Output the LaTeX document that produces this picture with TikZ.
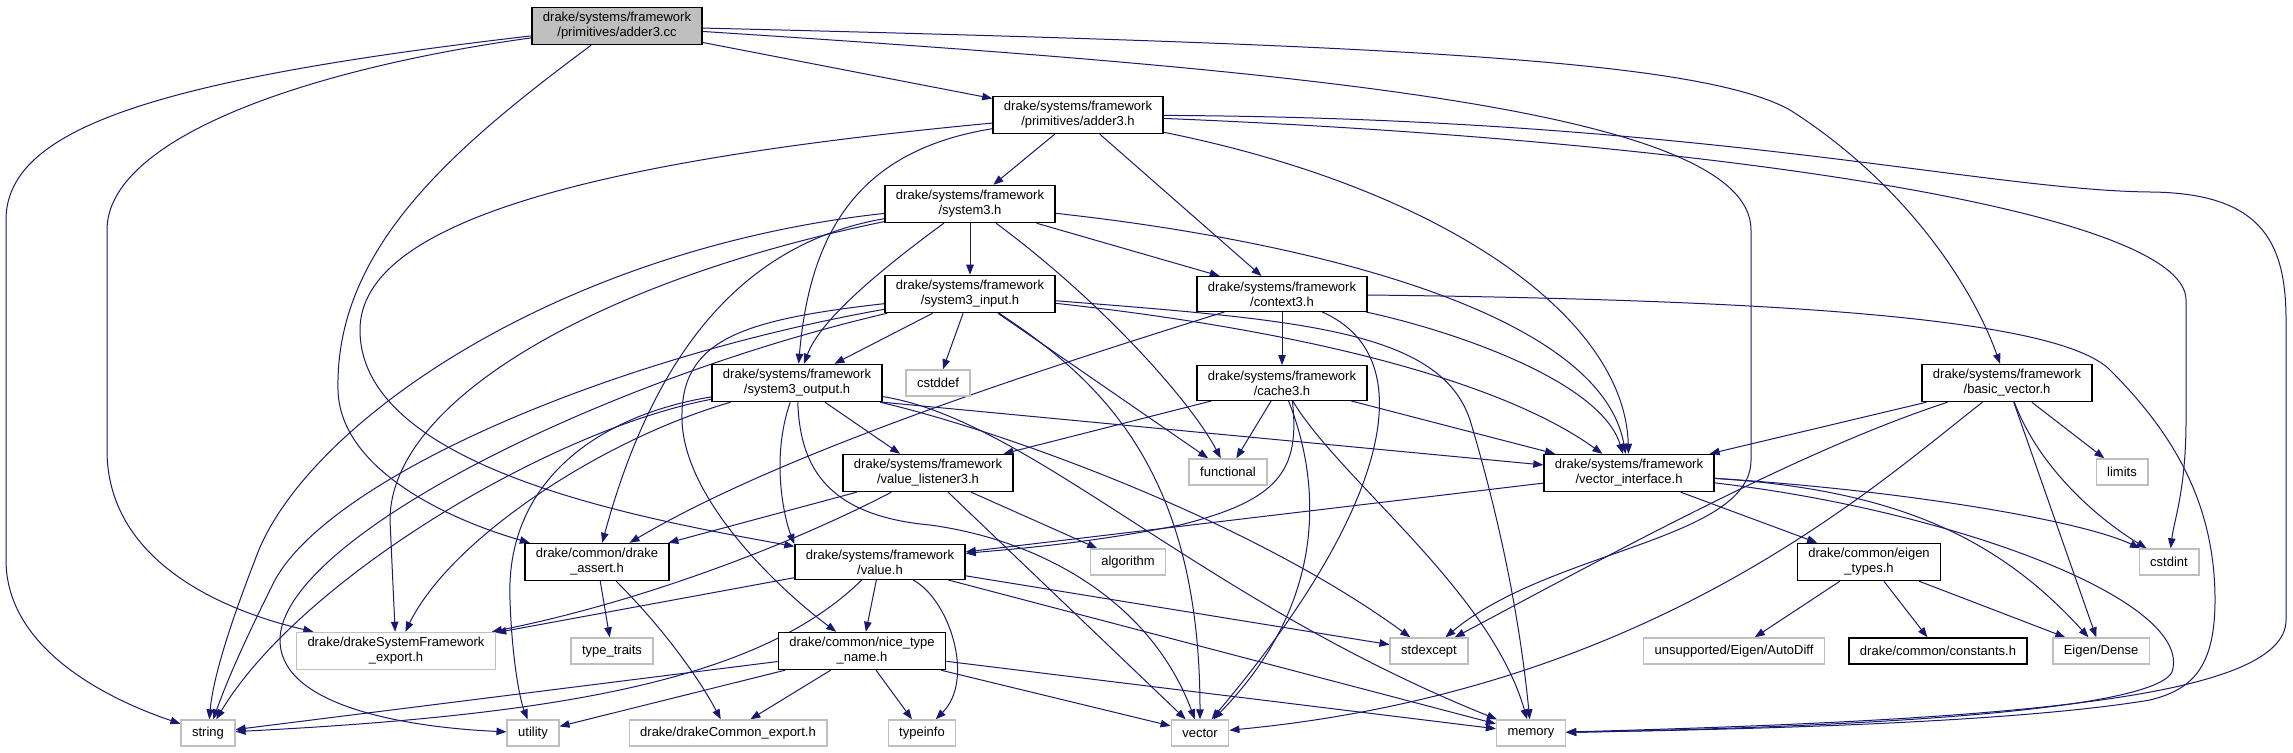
\documentclass[tikz,border=0pt]{standalone}
\usepackage{fontspec}
\setmainfont{Liberation Sans}
\usetikzlibrary{arrows.meta,backgrounds}
\definecolor{Edge}{RGB}{25,25,112}
\definecolor{Grey}{RGB}{191,191,191}

\tikzset{
  file/.style={draw,line width=1.4pt,fill=white,align=center,inner xsep=11pt,inner ysep=5pt,minimum height=26pt,font=\fontsize{13}{15}\selectfont},
  hdr/.style={file,draw=black},
  ext/.style={file,draw=Grey},
  rootfile/.style={file,draw=black,fill=Grey},
  incl/.style={draw=Edge,line width=1pt,-{Triangle[length=10pt,width=7.5pt]}}
}

\begin{document}
\begin{tikzpicture}[x=1pt,y=-1pt,line cap=round]
\path[use as bounding box] (0,0) rectangle (2293,752);
% files, row by row
\node[rootfile] (cc) at (617,26) {drake/systems/framework\\/primitives/adder3.cc};
\node[hdr] (adder3) at (1078,115) {drake/systems/framework\\/primitives/adder3.h};
\node[hdr] (system3) at (970,204) {drake/systems/framework\\/system3.h};
\node[hdr] (input) at (970,294) {drake/systems/framework\\/system3\_input.h};
\node[hdr] (context) at (1282,294) {drake/systems/framework\\/context3.h};
\node[hdr] (output) at (797,383) {drake/systems/framework\\/system3\_output.h};
\node[ext] (cstddef) at (938,383) {cstddef};
\node[hdr] (cache) at (1282,383) {drake/systems/framework\\/cache3.h};
\node[hdr] (basicvec) at (2007,383) {drake/systems/framework\\/basic\_vector.h};
\node[hdr] (listener) at (928,473) {drake/systems/framework\\/value\_listener3.h};
\node[ext] (functional) at (1228,472) {functional};
\node[hdr] (vecif) at (1629,473) {drake/systems/framework\\/vector\_interface.h};
\node[ext] (limits) at (2122,472) {limits};
\node[hdr] (dassert) at (597,562) {drake/common/drake\\\_assert.h};
\node[hdr] (value) at (880,562) {drake/systems/framework\\/value.h};
\node[ext] (algorithm) at (1128,562) {algorithm};
\node[hdr] (eigen) at (1869,562) {drake/common/eigen\\\_types.h};
\node[ext] (cstdint) at (2169,562) {cstdint};
\node[ext] (sysexport) at (396,651) {drake/drakeSystemFramework\\\_export.h};
\node[ext] (typetraits) at (612,651) {type\_traits};
\node[hdr] (nicename) at (862,651) {drake/common/nice\_type\\\_name.h};
\node[ext] (stdexcept) at (1429,651) {stdexcept};
\node[ext] (autodiff) at (1734,651) {unsupported/Eigen/AutoDiff};
\node[hdr] (constants) at (1938,651) {drake/common/constants.h};
\node[ext] (dense) at (2101,651) {Eigen/Dense};
\node[ext] (string) at (208,733) {string};
\node[ext] (utility) at (533,733) {utility};
\node[ext] (comexport) at (728,733) {drake/drakeCommon\_export.h};
\node[ext] (typeinfo) at (922,733) {typeinfo};
\node[ext] (vector) at (1200,733) {vector};
\node[ext] (memory) at (1531,733) {memory};

\begin{scope}[on background layer]
\fill[white] (0,0) rectangle (2293,752);
% adder3.cc
\draw[incl] (cc) -- (adder3);
\draw[incl] (cc) .. controls (150,80) and (6,130) .. (6,220) -- (6,560) .. controls (6,650) and (110,700) .. (string);
\draw[incl] (cc) .. controls (300,70) and (107,140) .. (107,230) -- (107,450) .. controls (107,560) and (220,610) .. (sysexport);
\draw[incl] (cc) .. controls (450,150) and (335,250) .. (338,390) .. controls (340,470) and (450,520) .. (dassert);
\draw[incl] (cc) .. controls (1400,45) and (1700,60) .. (1790,110) .. controls (1900,180) and (1970,280) .. (basicvec);
\draw[incl] (cc) .. controls (1300,70) and (1751,110) .. (1751,230) -- (1751,460) .. controls (1751,540) and (1550,550) .. (stdexcept);
% adder3.h
\draw[incl] (adder3) -- (system3);
\draw[incl] (adder3) -- (context);
\draw[incl] (adder3) .. controls (600,160) and (360,220) .. (360,330) .. controls (360,470) and (650,520) .. (value);
\draw[incl] (adder3) .. controls (860,150) and (810,230) .. (output);
\draw[incl] (adder3) .. controls (1450,190) and (1625,320) .. (vecif);
\draw[incl] (adder3) .. controls (1700,118) and (1980,190) .. (2150,192) .. controls (2260,193) and (2286,240) .. (2286,320) -- (2286,620) .. controls (2286,700) and (2000,720) .. (memory);
\draw[incl] (adder3) .. controls (1700,140) and (2186,210) .. (2186,300) -- (2186,420) .. controls (2186,490) and (2174,520) .. (cstdint);
% system3.h
\draw[incl] (system3) .. controls (550,250) and (300,430) .. (255,560) .. controls (220,650) and (212,690) .. (string);
\draw[incl] (system3) .. controls (600,280) and (390,400) .. (390,520) -- (sysexport);
\draw[incl] (system3) .. controls (760,240) and (660,330) .. (dassert);
\draw[incl] (system3) .. controls (880,270) and (820,320) .. (output);
\draw[incl] (system3) -- (input);
\draw[incl] (system3) .. controls (1100,300) and (1190,400) .. (functional);
\draw[incl] (system3) -- (context);
\draw[incl] (system3) .. controls (1300,240) and (1600,310) .. (vecif);
% system3_input.h
\draw[incl] (input) .. controls (600,360) and (330,480) .. (275,580) .. controls (235,660) and (224,690) .. (string);
\draw[incl] (input) .. controls (600,380) and (280,540) .. (280,640) .. controls (280,710) and (420,728) .. (utility);
\draw[incl] (input) .. controls (740,320) and (680,340) .. (682,420) .. controls (684,500) and (780,590) .. (nicename);
\draw[incl] (input) -- (output);
\draw[incl] (input) -- (cstddef);
\draw[incl] (input) -- (functional);
\draw[incl] (input) .. controls (1100,380) and (1200,470) .. (vector);
\draw[incl] (input) .. controls (1300,330) and (1500,380) .. (vecif);
\draw[incl] (input) .. controls (1300,320) and (1440,330) .. (1470,420) .. controls (1500,520) and (1520,620) .. (memory);
% context3.h
\draw[incl] (context) .. controls (990,385) and (770,460) .. (dassert);
\draw[incl] (context) -- (cache);
\draw[incl] (context) .. controls (1430,360) and (1380,520) .. (vector);
\draw[incl] (context) .. controls (1450,330) and (1600,380) .. (vecif);
\draw[incl] (context) .. controls (1800,300) and (2060,320) .. (2110,370) .. controls (2170,430) and (2215,500) .. (2215,600) .. controls (2215,670) and (2190,690) .. (2150,700) .. controls (2000,725) and (1700,730) .. (memory);
% system3_output.h
\draw[incl] (output) .. controls (550,430) and (300,580) .. (string);
\draw[incl] (output) .. controls (600,440) and (450,540) .. (sysexport);
\draw[incl] (output) .. controls (600,415) and (505,480) .. (510,600) .. controls (512,660) and (520,700) .. (utility);
\draw[incl] (output) .. controls (770,460) and (785,520) .. (value.north west);
\draw[incl] (output) .. controls (800,460) and (820,515) .. (930,525) .. controls (1040,540) and (1150,600) .. (vector);
\draw[incl] (output) -- (listener);
\draw[incl] (output.south east) -- (vecif);
\draw[incl] (output) .. controls (1000,430) and (1250,520) .. (stdexcept);
\draw[incl] (output) .. controls (1030,420) and (1200,600) .. (memory);
% cache3.h
\draw[incl] (cache) -- (listener);
\draw[incl] (cache) -- (functional);
\draw[incl] (cache.-60) .. controls (1300,470) and (1280,500) .. (1180,525) .. controls (1080,545) and (1000,550) .. (value);
\draw[incl] (cache.-70) .. controls (1320,480) and (1330,600) .. (vector);
\draw[incl] (cache) .. controls (1340,480) and (1490,590) .. (memory);
\draw[incl] (cache) -- (vecif);
% basic_vector.h
\draw[incl] (basicvec) -- (vecif);
\draw[incl] (basicvec) .. controls (1800,450) and (1600,560) .. (stdexcept);
\draw[incl] (basicvec) .. controls (1870,490) and (1650,690) .. (vector);
\draw[incl] (basicvec) -- (dense);
\draw[incl] (basicvec) .. controls (2040,470) and (2100,520) .. (cstdint);
\draw[incl] (basicvec) -- (limits);
% value_listener3.h
\draw[incl] (listener) -- (dassert);
\draw[incl] (listener) .. controls (800,540) and (650,600) .. (sysexport);
\draw[incl] (listener) -- (algorithm);
\draw[incl] (listener) -- (vector);
% vector_interface.h
\draw[incl] (vecif) -- (value);
\draw[incl] (vecif) -- (eigen);
\draw[incl] (vecif) .. controls (1900,490) and (2080,520) .. (cstdint);
\draw[incl] (vecif) .. controls (1900,490) and (2000,540) .. (dense);
\draw[incl] (vecif) .. controls (1950,510) and (2195,600) .. (2172,672) .. controls (2150,715) and (1800,728) .. (memory);
% eigen_types.h
\draw[incl] (eigen) -- (autodiff);
\draw[incl] (eigen) -- (constants);
\draw[incl] (eigen) -- (dense);
% drake_assert.h
\draw[incl] (dassert) -- (typetraits);
\draw[incl] (dassert) .. controls (665,630) and (700,680) .. (comexport);
% value.h
\draw[incl] (value) -- (sysexport);
\draw[incl] (value) .. controls (760,680) and (560,715) .. (string);
\draw[incl] (value) -- (nicename);
\draw[incl] (value) .. controls (950,600) and (975,680) .. (typeinfo);
\draw[incl] (value) -- (stdexcept);
\draw[incl] (value) -- (memory);
% nice_type_name.h
\draw[incl] (nicename) -- (string);
\draw[incl] (nicename) -- (utility);
\draw[incl] (nicename) -- (comexport);
\draw[incl] (nicename) -- (typeinfo);
\draw[incl] (nicename) -- (vector);
\draw[incl] (nicename) -- (memory);
\end{scope}
\end{tikzpicture}
\end{document}
